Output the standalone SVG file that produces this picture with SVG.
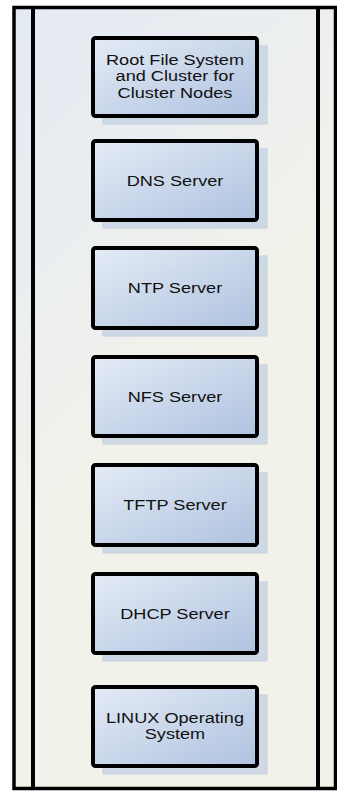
<svg xmlns="http://www.w3.org/2000/svg" width="337" height="791" viewBox="0 0 337 791">
  <defs>
    <linearGradient id="bg" gradientUnits="userSpaceOnUse" x1="20" y1="0" x2="300" y2="260">
      <stop offset="0" stop-color="#e4eaf4"/>
      <stop offset="0.5" stop-color="#ebeef0"/>
      <stop offset="1" stop-color="#f2f2ea"/>
    </linearGradient>
    <linearGradient id="boxFill" x1="0" y1="0" x2="1" y2="1">
      <stop offset="0" stop-color="#e4ebf6"/>
      <stop offset="1" stop-color="#afc2df"/>
    </linearGradient>
    <style>
      .shadow { fill: #c9d5e6; stroke: #bccadd; stroke-width: 1; opacity: 0.85; }
      .box { fill: url(#boxFill); stroke: #000; stroke-width: 4; }
      .frame { fill: none; stroke: #000; stroke-width: 3.5; }
      .lane { stroke: #000; stroke-width: 4; }
      .label { font-family: "Liberation Sans", Arial, sans-serif; font-size: 15.5px; fill: #111; text-anchor: middle; }
    </style>
  </defs>

  <!-- swimlane background and frame -->
  <g id="pool">
    <rect x="14" y="7.5" width="321.5" height="781" fill="url(#bg)"/>
    <line class="lane" x1="33" y1="7.5" x2="33" y2="788.5"/>
    <line class="lane" x1="318" y1="7.5" x2="318" y2="788.5"/>
    <rect class="frame" x="14" y="7.5" width="321.5" height="781"/>
  </g>

  <!-- stacked component nodes -->
  <g id="root-fs">
    <rect class="shadow" x="103" y="46" width="164" height="78"/>
    <rect class="box" x="93" y="38" width="164" height="78" rx="2.5"/>
    <g transform="translate(175 0) scale(1.17 1)">
      <text class="label" x="0" y="65">Root File System</text>
      <text class="label" x="0" y="81.5">and Cluster for</text>
      <text class="label" x="0" y="98">Cluster Nodes</text>
    </g>
  </g>

  <g id="dns">
    <rect class="shadow" x="103" y="149" width="164" height="79"/>
    <rect class="box" x="93" y="141" width="164" height="79" rx="2.5"/>
    <g transform="translate(175 0) scale(1.17 1)">
      <text class="label" x="0" y="186">DNS Server</text>
    </g>
  </g>

  <g id="ntp">
    <rect class="shadow" x="103" y="256" width="164" height="80"/>
    <rect class="box" x="93" y="248" width="164" height="80" rx="2.5"/>
    <g transform="translate(175 0) scale(1.17 1)">
      <text class="label" x="0" y="293.5">NTP Server</text>
    </g>
  </g>

  <g id="nfs">
    <rect class="shadow" x="103" y="365" width="164" height="79"/>
    <rect class="box" x="93" y="357" width="164" height="79" rx="2.5"/>
    <g transform="translate(175 0) scale(1.17 1)">
      <text class="label" x="0" y="402">NFS Server</text>
    </g>
  </g>

  <g id="tftp">
    <rect class="shadow" x="103" y="473" width="164" height="80"/>
    <rect class="box" x="93" y="465" width="164" height="80" rx="2.5"/>
    <g transform="translate(175 0) scale(1.17 1)">
      <text class="label" x="0" y="510.5">TFTP Server</text>
    </g>
  </g>

  <g id="dhcp">
    <rect class="shadow" x="103" y="582" width="164" height="79"/>
    <rect class="box" x="93" y="574" width="164" height="79" rx="2.5"/>
    <g transform="translate(175 0) scale(1.17 1)">
      <text class="label" x="0" y="619">DHCP Server</text>
    </g>
  </g>

  <g id="linux">
    <rect class="shadow" x="103" y="695" width="164" height="79"/>
    <rect class="box" x="93" y="687" width="164" height="79" rx="2.5"/>
    <g transform="translate(175 0) scale(1.17 1)">
      <text class="label" x="0" y="723">LINUX Operating</text>
      <text class="label" x="0" y="739">System</text>
    </g>
  </g>

  <!-- no connectors in this stack -->
  <g id="connectors"/>
</svg>
